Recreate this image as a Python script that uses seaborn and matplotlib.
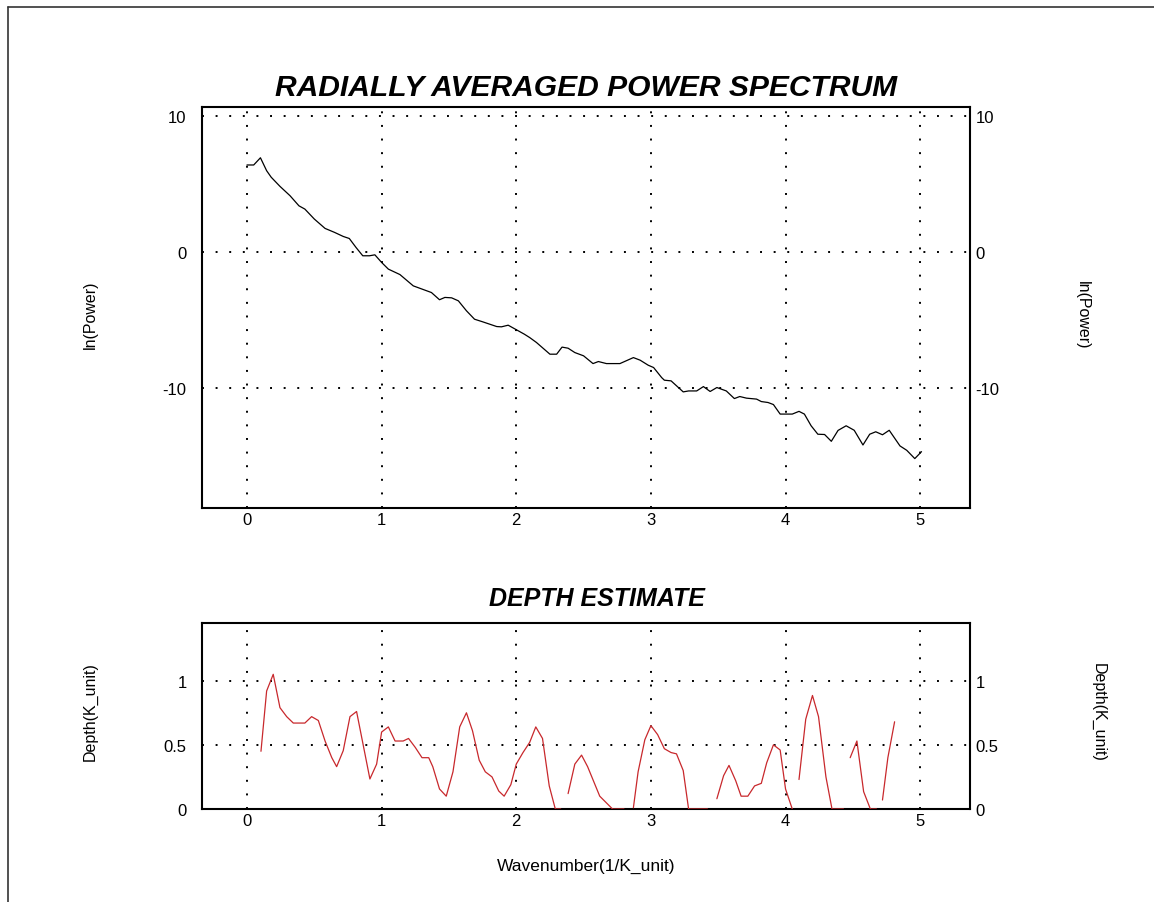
import numpy as np
import pandas as pd
import matplotlib
matplotlib.use("Agg")
import matplotlib.pyplot as plt
import seaborn as sns

# ---------------- data ----------------
spec_k = [0.0, 0.05, 0.10, 0.146, 0.18, 0.245, 0.32, 0.386, 0.43, 0.50, 0.58, 0.65, 0.715, 0.76,
          0.81, 0.86, 0.91, 0.95, 1.00, 1.05, 1.136, 1.235, 1.37, 1.43, 1.47, 1.52, 1.57, 1.63,
          1.69, 1.75, 1.855, 1.89, 1.94, 2.00, 2.06, 2.10, 2.15, 2.25, 2.30, 2.34, 2.385, 2.435,
          2.50, 2.57, 2.61, 2.67, 2.77, 2.87, 2.92, 2.98, 3.02, 3.08, 3.10, 3.15, 3.24, 3.28,
          3.34, 3.39, 3.44, 3.49, 3.56, 3.62, 3.66, 3.71, 3.785, 3.82, 3.87, 3.91, 3.96, 4.05,
          4.10, 4.14, 4.19, 4.24, 4.29, 4.34, 4.39, 4.45, 4.51, 4.575, 4.625, 4.67, 4.72, 4.77,
          4.85, 4.90, 4.96, 5.01]
spec_lnp = [6.4, 6.4, 6.93, 5.98, 5.5, 4.83, 4.14, 3.4, 3.16, 2.43, 1.74, 1.45, 1.15, 1.0,
            0.34, -0.27, -0.27, -0.2, -0.76, -1.25, -1.65, -2.48, -2.97, -3.5, -3.33, -3.36, -3.58, -4.31,
            -4.93, -5.12, -5.47, -5.49, -5.37, -5.7, -6.03, -6.28, -6.64, -7.5, -7.5, -6.98, -7.06, -7.38,
            -7.62, -8.19, -8.04, -8.19, -8.19, -7.75, -7.94, -8.31, -8.48, -9.22, -9.41, -9.46, -10.27, -10.2,
            -10.2, -9.88, -10.24, -9.95, -10.2, -10.76, -10.61, -10.73, -10.8, -10.98, -11.05, -11.2, -11.9, -11.9,
            -11.7, -11.9, -12.76, -13.38, -13.4, -13.9, -13.1, -12.76, -13.09, -14.17, -13.38, -13.2, -13.42, -13.09,
            -14.24, -14.56, -15.17, -14.66]

depth_k = [0.104, 0.146, 0.195, 0.245, 0.295, 0.344, 0.43, 0.48, 0.53, 0.58, 0.63, 0.666, 0.715, 0.765,
           0.814, 0.864, 0.913, 0.963, 1.0, 1.05, 1.1, 1.16, 1.2, 1.25, 1.3, 1.35, 1.38, 1.43, 1.48,
           1.53, 1.58, 1.63, 1.675, 1.725, 1.77, 1.82, 1.87, 1.91, 1.96, 2.0, 2.05, 2.1, 2.145, 2.195,
           2.245, 2.29, 2.33,
           2.385, 2.435, 2.485, 2.53, 2.62, 2.715, 2.8,
           2.87, 2.905, 2.955, 3.0, 3.05, 3.1, 3.15, 3.19, 3.24, 3.28, 3.42,
           3.49, 3.54, 3.58, 3.63, 3.67, 3.72, 3.77, 3.82, 3.86, 3.91, 3.96, 4.0, 4.05,
           4.1, 4.15, 4.2, 4.245, 4.3, 4.345, 4.43,
           4.48, 4.53, 4.58, 4.63, 4.675,
           4.72, 4.76, 4.81]
depth_val = [0.45, 0.92, 1.05, 0.79, 0.72, 0.67, 0.67, 0.72, 0.69, 0.53, 0.40, 0.33, 0.455, 0.72,
             0.76, 0.495, 0.234, 0.35, 0.6, 0.64, 0.53, 0.53, 0.55, 0.48, 0.40, 0.40, 0.33, 0.156, 0.1,
             0.29, 0.64, 0.75, 0.61, 0.38, 0.29, 0.25, 0.14, 0.1, 0.19, 0.35, 0.44, 0.52, 0.64, 0.55,
             0.18, 0.0, 0.0,
             0.12, 0.35, 0.42, 0.33, 0.1, 0.0, 0.0,
             0.01, 0.29, 0.54, 0.65, 0.58, 0.47, 0.44, 0.43, 0.3, 0.0, 0.0,
             0.08, 0.26, 0.34, 0.22, 0.1, 0.1, 0.18, 0.2, 0.36, 0.5, 0.46, 0.156, 0.0,
             0.23, 0.70, 0.885, 0.72, 0.25, 0.0, 0.0,
             0.4, 0.53, 0.135, 0.0, 0.0,
             0.07, 0.4, 0.68]
depth_seg = [1] * 47 + [2] * 7 + [3] * 11 + [4] * 13 + [5] * 7 + [6] * 5 + [7] * 3

x_ticks = [0, 1, 2, 3, 4, 5]
x_tick_labels = ["0", "1", "2", "3", "4", "5"]
spec_ticks = [-10, 0, 10]
spec_tick_labels = ["-10", "0", "10"]
depth_ticks = [0, 0.5, 1]
depth_tick_labels = ["0", "0.5", "1"]

title_top = "RADIALLY AVERAGED POWER SPECTRUM"
title_bottom = "DEPTH ESTIMATE"
ylabel_top = "ln(Power)"
ylabel_bottom = "Depth(K_unit)"
xlabel = "Wavenumber(1/K_unit)"

# ---------------- style ----------------
sns.set_style("white")
plt.rcParams['font.family'] = ['Liberation Sans', 'DejaVu Sans']
plt.rcParams['text.color'] = 'black'
plt.rcParams['axes.labelcolor'] = 'black'
plt.rcParams['xtick.color'] = 'black'
plt.rcParams['ytick.color'] = 'black'

W, H = 1154, 903
fig = plt.figure(figsize=(W / 100, H / 100), dpi=100)
fig.patch.set_facecolor("white")

def fx(px):
    return px / W

def fy(py):
    return 1 - py / H

ax1 = fig.add_axes([fx(202), fy(509), fx(970) - fx(202), fy(108) - fy(509)])
ax2 = fig.add_axes([fx(202), fy(810), fx(970) - fx(202), fy(624) - fy(810)])

spec_df = pd.DataFrame({"k": spec_k, "lnp": spec_lnp})
depth_df = pd.DataFrame({"k": depth_k, "d": depth_val, "seg": depth_seg})

grid_kw = dict(color="black", linestyle=(0, (1, 6)), linewidth=1.4)
tick_fs = 12
label_fs = 11.5

for ax, yt, ytl, ylim in [(ax1, spec_ticks, spec_tick_labels, (-18.8, 10.66)),
                          (ax2, depth_ticks, depth_tick_labels, (0, 1.45))]:
    ax.set_xlim(-0.334, 5.37)
    ax.set_ylim(*ylim)
    ax.set_xticks(x_ticks)
    ax.set_xticklabels(x_tick_labels)
    ax.set_yticks(yt)
    ax.set_yticklabels(ytl)
    ax.tick_params(axis="both", length=0, labelsize=tick_fs, colors="black")
    ax.tick_params(axis="y", pad=11)
    ax.tick_params(axis="x", pad=3)
    for v in x_ticks:
        ax.axvline(v, zorder=1, **grid_kw)
    for v in yt:
        ax.axhline(v, zorder=1, **grid_kw)
    for s in ax.spines.values():
        s.set_visible(True)
        s.set_color("black")
        s.set_linewidth(1.5)
    twin = ax.twinx()
    twin.set_ylim(*ylim)
    twin.set_yticks(yt)
    twin.set_yticklabels(ytl)
    twin.tick_params(axis="y", length=0, labelsize=tick_fs, pad=4, colors="black")
    for s in twin.spines.values():
        s.set_visible(False)
    twin.grid(False)

sns.lineplot(data=spec_df, x="k", y="lnp", ax=ax1, color="black", linewidth=0.9,
             sort=False, estimator=None, zorder=3)
sns.lineplot(data=depth_df, x="k", y="d", units="seg", ax=ax2, color="#c8282c",
             linewidth=0.9, sort=False, estimator=None, zorder=3)
for ax in (ax1, ax2):
    ax.set_xlabel("")
    ax.set_ylabel("")

# titles and labels
fig.text(fx(586), fy(88), title_top, ha="center", va="center", fontsize=21.6,
         fontweight="bold", fontstyle="italic", color="black")
fig.text(fx(597), fy(599), title_bottom, ha="center", va="center", fontsize=18,
         fontweight="bold", fontstyle="italic", color="black")
fig.text(fx(90), fy(315), ylabel_top, ha="center", va="center", rotation=90, fontsize=label_fs)
fig.text(fx(1082), fy(315), ylabel_top, ha="center", va="center", rotation=270, fontsize=label_fs)
fig.text(fx(90), fy(712), ylabel_bottom, ha="center", va="center", rotation=90, fontsize=label_fs)
fig.text(fx(1098), fy(712), ylabel_bottom, ha="center", va="center", rotation=270, fontsize=label_fs)
fig.text(fx(586), fy(866), xlabel, ha="center", va="center", fontsize=12.5)

# outer frame (left and top edges)
fig.add_artist(plt.Line2D([fx(7.5), fx(7.5)], [0, fy(8)], color="#333333", linewidth=1.2,
                          transform=fig.transFigure))
fig.add_artist(plt.Line2D([fx(7.5), 1], [fy(8), fy(8)], color="#333333", linewidth=1.2,
                          transform=fig.transFigure))

fig.savefig("out.png", dpi=100)
